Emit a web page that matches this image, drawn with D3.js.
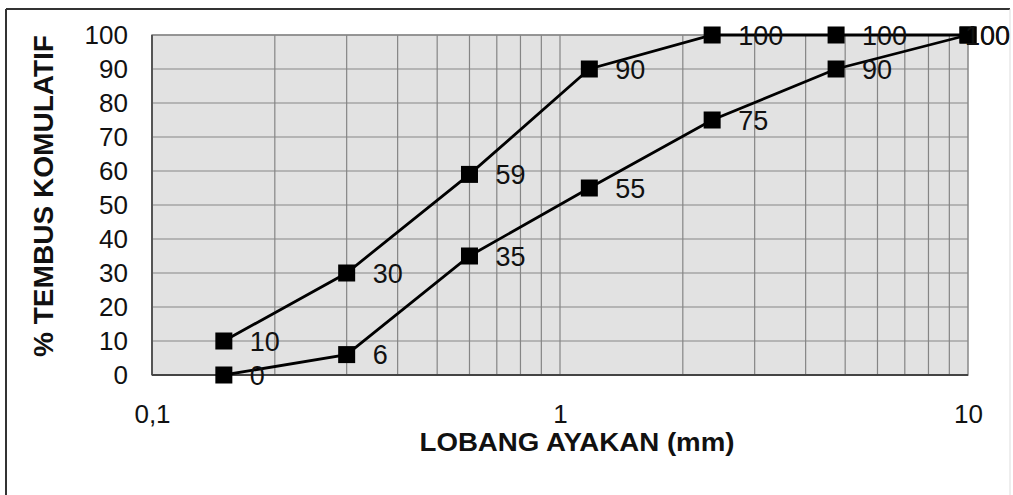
<!DOCTYPE html>
<html>
<head>
<meta charset="utf-8">
<script src="https://cdn.jsdelivr.net/npm/d3@7"></script>
<style>
  body { margin: 0; background: #fff; }
  svg { display: block; font-family: "Liberation Sans", Arial, sans-serif; }
</style>
</head>
<body>
<script>
// sieve sizes (mm) and cumulative passing (%)
const sieves = [0.15, 0.3, 0.6, 1.18, 2.36, 4.75, 10];
const upperPass = [10, 30, 59, 90, 100, 100, 100];
const lowerPass = [0, 6, 35, 55, 75, 90, 100];
const yTicks = [0, 10, 20, 30, 40, 50, 60, 70, 80, 90, 100];
const xTicks = [0.1, 1, 10];
const xGrid = [0.2, 0.3, 0.4, 0.5, 0.6, 0.7, 0.8, 0.9, 1, 2, 3, 4, 5, 6, 7, 8, 9];

const W = 1013, H = 495;
const svg = d3.select("body").append("svg")
    .attr("width", W)
    .attr("height", H);

// outer chart frame
svg.append("line").attr("x1", 6).attr("y1", 9).attr("x2", 6).attr("y2", H)
    .attr("stroke", "#333").attr("stroke-width", 2);
svg.append("line").attr("x1", 6).attr("y1", 9).attr("x2", 1010).attr("y2", 9)
    .attr("stroke", "#333").attr("stroke-width", 2);
svg.append("line").attr("x1", 1010).attr("y1", 9).attr("x2", 1010).attr("y2", H)
    .attr("stroke", "#ddd").attr("stroke-width", 1);

const pL = 152, pR = 968, pT = 35, pB = 375;

const x = d3.scaleLog()
    .domain([0.1, 10])
    .range([pL, pR]);
const y = d3.scaleLinear()
    .domain([0, 100])
    .range([pB, pT]);

// plot background
svg.append("rect")
    .attr("x", pL).attr("y", pT)
    .attr("width", pR - pL).attr("height", pB - pT)
    .attr("fill", "#e2e2e2");

// grid lines
svg.append("g")
    .selectAll("line")
    .data(yTicks.slice(1))
    .enter()
    .append("line")
    .attr("x1", pL).attr("x2", pR)
    .attr("y1", d => y(d)).attr("y2", d => y(d))
    .attr("stroke", "#858585").attr("stroke-width", 1.2);
svg.append("g")
    .selectAll("line")
    .data(xGrid)
    .enter()
    .append("line")
    .attr("x1", d => x(d)).attr("x2", d => x(d))
    .attr("y1", pT).attr("y2", pB)
    .attr("stroke", "#858585").attr("stroke-width", 1.2);

// plot border
svg.append("rect")
    .attr("x", pL).attr("y", pT)
    .attr("width", pR - pL).attr("height", pB - pT)
    .attr("fill", "none")
    .attr("stroke", "#888").attr("stroke-width", 1.5);
svg.append("line").attr("x1", pL).attr("x2", pL).attr("y1", pT).attr("y2", pB)
    .attr("stroke", "#555").attr("stroke-width", 2);
svg.append("line").attr("x1", pL).attr("x2", pR).attr("y1", pB).attr("y2", pB)
    .attr("stroke", "#444").attr("stroke-width", 2);

// y axis
const yAxis = svg.append("g")
    .attr("transform", `translate(${pL},0)`)
    .call(d3.axisLeft(y).tickValues(yTicks).tickSize(0).tickPadding(24));
yAxis.select(".domain").remove();
yAxis.selectAll("text")
    .attr("font-size", 26)
    .attr("font-family", "Liberation Sans, Arial, sans-serif")
    .attr("fill", "#111");

// x axis
const xAxis = svg.append("g")
    .attr("transform", `translate(0,${pB})`)
    .call(d3.axisBottom(x).tickValues(xTicks).tickSize(0).tickPadding(30)
        .tickFormat(d => String(d).replace(".", ",")));
xAxis.select(".domain").remove();
xAxis.selectAll("text")
    .attr("font-size", 26)
    .attr("font-family", "Liberation Sans, Arial, sans-serif")
    .attr("fill", "#111");

// axis titles
svg.append("text")
    .attr("x", 577).attr("y", 451)
    .attr("text-anchor", "middle")
    .attr("font-size", 25)
    .attr("font-weight", "bold")
    .attr("textLength", 315)
    .attr("lengthAdjust", "spacingAndGlyphs")
    .attr("fill", "#111")
    .text("LOBANG AYAKAN (mm)");

svg.append("text")
    .attr("transform", "translate(53,357) rotate(-90)")
    .attr("font-size", 28)
    .attr("font-weight", "bold")
    .attr("textLength", 322)
    .attr("lengthAdjust", "spacingAndGlyphs")
    .attr("fill", "#111")
    .text("% TEMBUS KOMULATIF");

// series
const line = d3.line()
    .x(d => x(d[0]))
    .y(d => y(d[1]));

const series = [upperPass, lowerPass].map(vals => sieves.map((s, i) => [s, vals[i]]));

series.forEach(pts => {
    svg.append("path")
        .datum(pts)
        .attr("fill", "none")
        .attr("stroke", "#000")
        .attr("stroke-width", 2.8)
        .attr("d", line);

    svg.append("g")
        .selectAll("rect")
        .data(pts)
        .enter()
        .append("rect")
        .attr("x", d => x(d[0]) - 8.5)
        .attr("y", d => y(d[1]) - 8.5)
        .attr("width", 17)
        .attr("height", 17)
        .attr("fill", "#000");

    svg.append("g")
        .selectAll("text")
        .data(pts)
        .enter()
        .append("text")
        .attr("x", d => Math.min(x(d[0]) + 26, W - 48))
        .attr("y", d => y(d[1]))
        .attr("dy", "0.36em")
        .attr("font-size", 27)
        .attr("fill", "#111")
        .text(d => d[1]);
});
</script>
</body>
</html>
